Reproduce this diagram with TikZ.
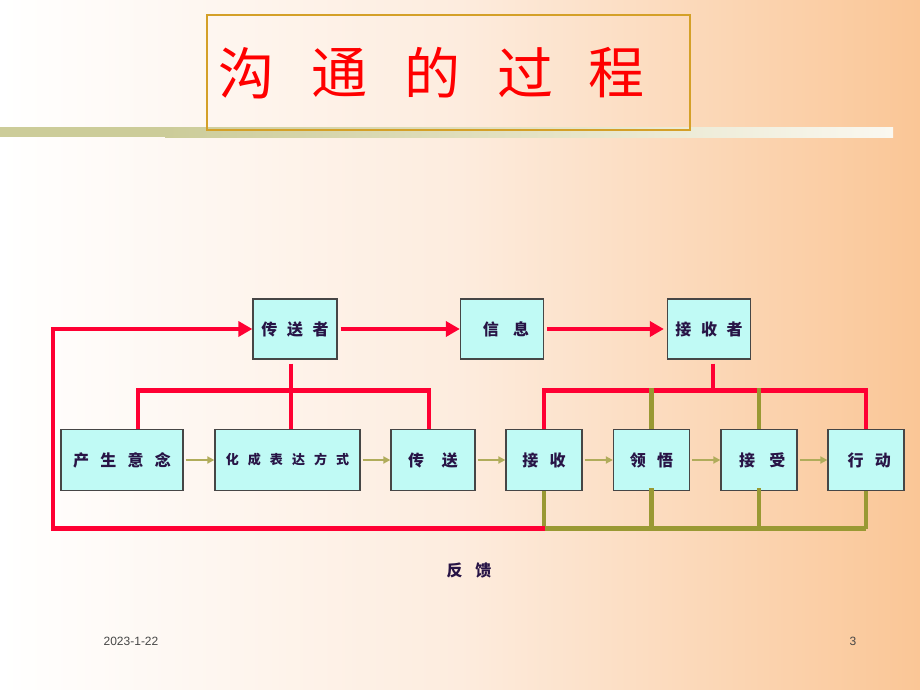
\documentclass[tikz,border=0pt]{standalone}
\usepackage{fontspec}
\setmainfont{Liberation Sans}
\newfontfamily\cjk{Noto Sans CJK SC}
\usetikzlibrary{arrows.meta}
\definecolor{bgpeach}{RGB}{250,198,150}
\definecolor{bgmid}{RGB}{253,236,222}
\definecolor{barolive}{RGB}{204,204,153}
\definecolor{titlegold}{RGB}{212,160,40}
\definecolor{boxfill}{RGB}{192,250,245}
\definecolor{boxline}{RGB}{70,70,70}
\definecolor{linered}{RGB}{255,0,51}
\definecolor{lineolive}{RGB}{153,153,51}
\definecolor{arrolive}{RGB}{176,172,90}
\definecolor{txtpurple}{RGB}{40,20,70}
\begin{document}
\begin{tikzpicture}[x=1pt,y=-1pt,
  box/.style={draw=boxline,line width=1.3pt,fill=boxfill,inner sep=0pt,
    font=\cjk\fontsize{16}{18}\selectfont\bfseries,text=txtpurple},
  redline/.style={draw=linered,line width=4.5pt},
  oliveline/.style={draw=lineolive,line width=4.5pt},
  bigarrow/.style={draw=linered,line width=4.5pt,-{Triangle[length=14pt,width=15pt]}},
  smallarrow/.style={draw=arrolive,line width=2pt,-{Triangle[length=7pt,width=7pt]}},
  titlech/.style={text=red,font=\cjk\fontsize{56}{60}\selectfont,inner sep=0pt}]
\useasboundingbox (0,0) rectangle (920,690);
% background
\shade[left color=white,right color=bgmid] (0,0) rectangle (460,690);
\shade[left color=bgmid,right color=bgpeach] (460,0) rectangle (920,690);
% bar
\fill[barolive] (0,127) rectangle (165,137);
\shade[left color=barolive,right color={rgb,255:red,250;green,248;blue,240}] (165,127) rectangle (893,137);
% title
\node[draw=titlegold,line width=1.2pt,minimum width=483pt,minimum height=115pt,inner sep=0pt] (tbox) at (448.5,72.5) {};
\node[titlech] (t1) at (246,73) {沟};
\node[titlech] (t2) at (339,73) {通};
\node[titlech] (t3) at (432,73) {的};
\node[titlech] (t4) at (525,73) {过};
\node[titlech] (t5) at (616,73) {程};
% top boxes
\node[box,minimum width=84pt,minimum height=60pt] (sender) at (295,329) {传\hspace{0.6em}送\hspace{0.6em}者};
\node[box,minimum width=83pt,minimum height=60pt] (msg) at (502,329) {\hspace{0.5em}信\hspace{0.9em}息};
\node[box,minimum width=83pt,minimum height=60pt] (recv) at (709,329) {接\hspace{0.6em}收\hspace{0.6em}者};
% bottom boxes
\node[box,minimum width=122pt,minimum height=61pt] (b1) at (122,460) {产\hspace{0.7em}生\hspace{0.7em}意\hspace{0.7em}念};
\node[box,minimum width=145pt,minimum height=61pt,font=\cjk\fontsize{13}{15}\selectfont\bfseries] (b2) at (287.5,460) {化\hspace{0.7em}成\hspace{0.7em}表\hspace{0.7em}达\hspace{0.7em}方\hspace{0.7em}式};
\node[box,minimum width=84pt,minimum height=61pt] (b3) at (433,460) {传\hspace{1.1em}送};
\node[box,minimum width=76pt,minimum height=61pt] (b4) at (544,460) {接\hspace{0.7em}收};
\node[box,minimum width=76pt,minimum height=61pt] (b5) at (651.5,460) {领\hspace{0.7em}悟};
\node[box,minimum width=76pt,minimum height=61pt] (b6) at (759,460) {\hspace{0.4em}接\hspace{0.9em}受};
\node[box,minimum width=76pt,minimum height=61pt] (b7) at (866,460) {\hspace{0.4em}行\hspace{0.7em}动};
% small arrows
\draw[smallarrow] (b1.east) ++(2,0) -- (b2.west);
\draw[smallarrow] (b2.east) ++(2,0) -- (b3.west);
\draw[smallarrow] (b3.east) ++(2,0) -- (b4.west);
\draw[smallarrow] (b4.east) ++(2,0) -- (b5.west);
\draw[smallarrow] (b5.east) ++(2,0) -- (b6.west);
\draw[smallarrow] (b6.east) ++(2,0) -- (b7.west);
% top red arrows
\draw[bigarrow] ([xshift=3pt]sender.east) -- (msg.west);
\draw[bigarrow] ([xshift=3pt]msg.east) -- ([xshift=-3pt]recv.west);
% feedback loop
\coordinate (fbl) at (53,528.5);
\coordinate (fbtop) at (53,329);
\coordinate (fbmid) at (545,528.5);
\draw[oliveline] (fbmid) -- (866,528.5);
\draw[oliveline] (b4.south) -- (544,528.5);
\draw[oliveline] ([yshift=3pt]b5.south) -- (651.5,528.5);
\draw[oliveline] ([yshift=3pt]b6.south) -- (759,528.5);
\draw[oliveline] (b7.south) -- (866,528.5);
\draw[redline] (fbmid) -- (fbl) -- (fbtop);
\draw[bigarrow] ([xshift=-2.25pt]fbtop) -- (sender.west);
% sender tree
\coordinate (sj) at (291,390.5);
\draw[redline] ([yshift=-4pt]sender.south -| sj) -- (b2.north -| sj);
\draw[redline] (b1.north -| 138,0) -- (138,390.5) -- (429,390.5) -- (b3.north -| 429,0);
% receiver tree
\draw[redline] ([yshift=-4pt]recv.south -| 713,0) -- (713,390.5);
\draw[redline] (b4.north) -- (544,390.5) -- (866,390.5) -- (b7.north);
\draw[oliveline] (651.5,388.25) -- (b5.north);
\draw[oliveline] (759,388.25) -- (b6.north);
% labels
\node[text=txtpurple,font=\cjk\fontsize{16}{18}\selectfont\bfseries] (fb) at (469,570) {反\hspace{0.8em}馈};
\node[text={rgb,255:red,70;green,70;blue,70},font=\fontsize{12}{14}\selectfont] (date) at (131,641) {2023-1-22};
\node[text={rgb,255:red,70;green,70;blue,70},font=\fontsize{12}{14}\selectfont] (pg) at (853,641) {3};
\end{tikzpicture}
\end{document}
